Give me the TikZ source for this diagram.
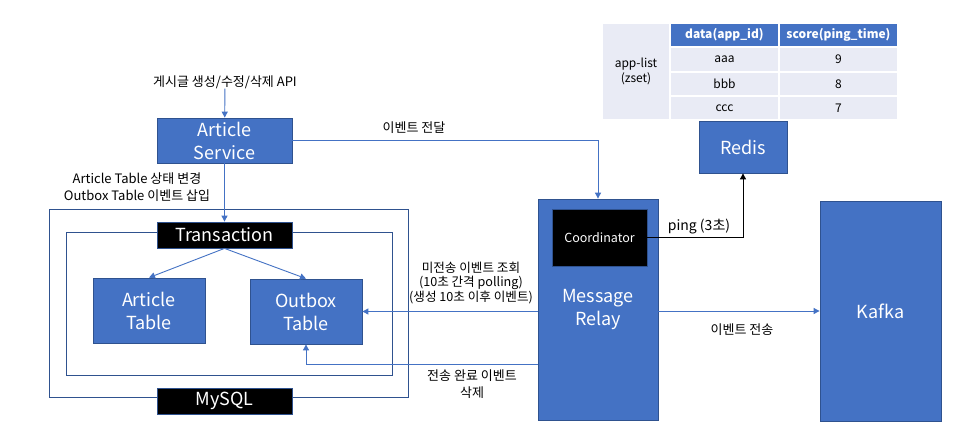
\documentclass[tikz,border=0pt]{standalone}
\usepackage{fontspec}
\setmainfont{Noto Sans CJK KR}
\usetikzlibrary{arrows.meta}
\definecolor{mblue}{HTML}{4472C4}
\definecolor{mborder}{HTML}{2F528F}
\definecolor{cellbg}{HTML}{E9EBF5}
\begin{document}
\begin{tikzpicture}[x=1pt,y=-1pt,
  box/.style={draw=mborder, fill=mblue, text=white, font=\fontsize{18}{23}\selectfont, align=center, inner sep=0pt, line width=0.8pt},
  blk/.style={draw=mborder, fill=black, text=white, font=\fontsize{18}{23}\selectfont, inner sep=0pt, line width=0.8pt},
  frame/.style={draw=mborder, line width=0.9pt, inner sep=0pt},
  conn/.style={draw=mblue, line width=0.9pt, -{Triangle[length=6pt,width=6pt]}},
  pconn/.style={draw=black, line width=0.9pt, -{Triangle[length=6pt,width=6pt]}},
  lbl/.style={font=\fontsize{13}{17}\selectfont, align=center, inner sep=0pt},
  slbl/.style={font=\fontsize{12.6}{14.5}\selectfont, align=center, inner sep=0pt},
  cell/.style={draw=white, line width=1.5pt, fill=cellbg, inner sep=0pt, font=\fontsize{12}{15}\selectfont, align=center},
  hcell/.style={cell, fill=mblue, text=white, font=\bfseries\fontsize{12}{15}\selectfont}
]
\useasboundingbox[fill=white] (0,0) rectangle (954,437);

% table
\node[cell, minimum width=68pt, minimum height=97pt] (c1) at (636,71.5) {app-list\\(zset)};
\node[hcell, minimum width=109pt, minimum height=24pt] (h2) at (724.5,35) {data(app\_id)};
\node[hcell, minimum width=119pt, minimum height=24pt] (h3) at (838.5,35) {score(ping\_time)};
\node[cell, minimum width=109pt, minimum height=25pt] (a2) at (724.5,59.5) {aaa};
\node[cell, minimum width=119pt, minimum height=25pt] (a3) at (838.5,59.5) {9};
\node[cell, minimum width=109pt, minimum height=24pt] (b2) at (724.5,84) {bbb};
\node[cell, minimum width=119pt, minimum height=24pt] (b3) at (838.5,84) {8};
\node[cell, minimum width=109pt, minimum height=24pt] (d2) at (724.5,108) {ccc};
\node[cell, minimum width=119pt, minimum height=24pt] (d3) at (838.5,108) {7};

% MySQL frames
\node[frame, minimum width=359pt, minimum height=188pt] (outer) at (228.5,303) {};
\node[frame, minimum width=326pt, minimum height=143pt] (inner) at (229,303.5) {};

% boxes
\node[lbl] (api) at (225,82) {게시글 생성/수정/삭제 API};
\node[box, minimum width=135pt, minimum height=45pt] (as) at (224.5,140.5) {Article\\Service};
\node[blk, minimum width=135pt, minimum height=26pt] (trans) at (224.5,235) {Transaction};
\node[blk, minimum width=135pt, minimum height=26pt] (mysql) at (224.5,401) {MySQL};
\node[box, minimum width=112pt, minimum height=65pt] (atab) at (149,310.5) {Article\\Table};
\node[box, minimum width=112pt, minimum height=65pt] (otab) at (306,311.5) {Outbox\\Table};
\node[box, minimum width=120pt, minimum height=221pt] (relay) at (598,309.5) {Message\\Relay};
\node[draw=mborder, fill=black, text=white, font=\fontsize{12.5}{14}\selectfont, inner sep=0pt, line width=0.8pt, minimum width=95pt, minimum height=57pt] (coord) at (599.5,237.5) {Coordinator};
\node[box, minimum width=88pt, minimum height=52pt] (redis) at (743,147) {Redis};
\node[box, minimum width=121pt, minimum height=220pt] (kafka) at (880.5,311) {Kafka};

% connectors
\draw[conn] (api) -- (as);
\draw[conn] (as.east) -| (relay.north);
\node[lbl] (l1) at (414,128) {이벤트 전달};
\draw[conn] (as) -- (trans);
\node[lbl] (l2) at (137,187) {Article Table 상태 변경\\Outbox Table 이벤트 삽입};
\draw[conn] (trans.south) -- (atab.north);
\draw[conn] (trans.south) -- (otab.north);
\draw[conn] (relay.west |- otab.east) -- (otab.east);
\node[slbl] (l3) at (471,283) {미전송 이벤트 조회\\(10초 간격 polling)\\(생성 10초 이후 이벤트)};
\coordinate (del) at (relay.west |- 0,364);
\draw[conn] (del) -| (otab.south);
\node[lbl] (l4) at (472,384) {전송 완료 이벤트\\삭제};
\draw[pconn] (coord.east) -| (redis.south);
\node[font=\fontsize{14}{16}\selectfont, inner sep=0pt] (l5) at (699,227) {ping (3초)};
\draw[conn] (relay.east |- kafka.west) -- (kafka.west);
\node[lbl] (l6) at (742,330) {이벤트 전송};
\end{tikzpicture}
\end{document}
